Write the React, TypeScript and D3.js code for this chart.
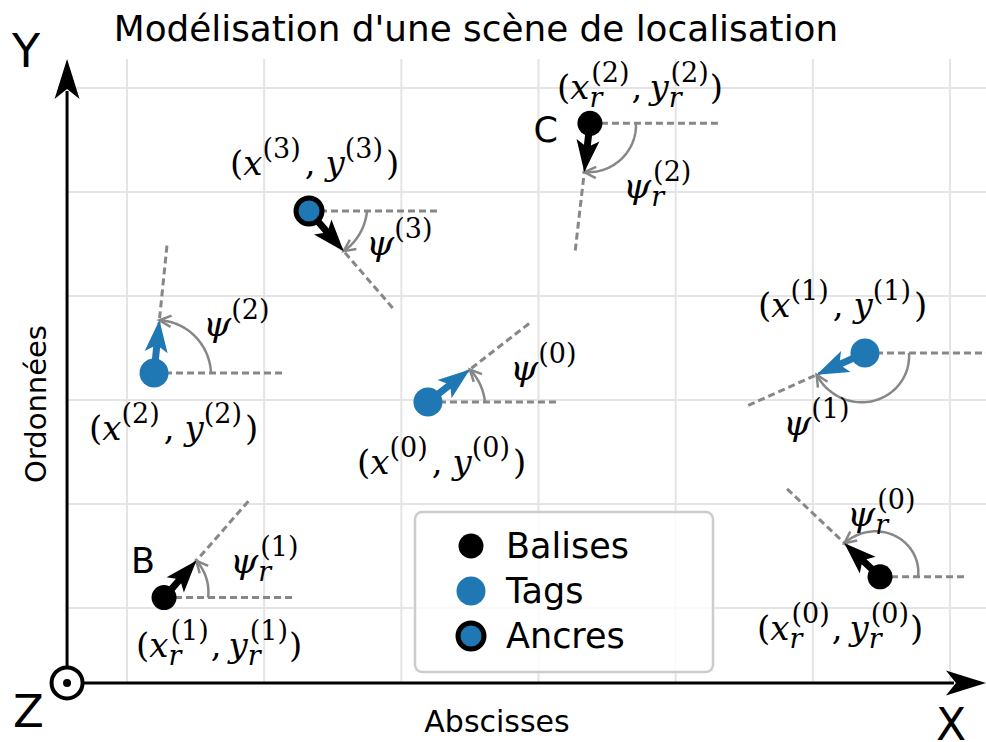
import React from 'react';
import * as d3 from 'd3';

// grid ticks (data units) and visible limits of the scene
const xTicks = [0, 1, 2, 3, 4, 5, 6];
const yTicks = [0, 1, 2, 3, 4, 5];
const xLimits = [-0.437, 6.262];
const yLimits = [-0.72, 5.28];

// balises (black), heading in degrees
const baliseX = [5.49, 0.27, 3.375];
const baliseY = [0.3, 0.1, 4.66];
const baliseHeading = [136.6, 48.8, -96.6];
const baliseNames = ['', 'B', 'C'];

// tags (blue); the last one is an anchor
const tagX = [2.194, 5.38, 0.197, 1.327];
const tagY = [1.981, 2.452, 2.26, 3.817];
const tagHeading = [37.8, -155.8, 84.2, -49.2];
const anchorIndex = [3];

const legendLabels = ['Balises', 'Tags', 'Ancres'];
const title = "Modélisation d'une scène de localisation";

// label placement around each pose (pixels), arc start radius, reference line length
const baliseLayout = [
  { coord: [-123, 63], psi: [-33, -51], arc: 38, ref: 85 },
  { coord: [-28, 59], psi: [66, -25], arc: 44, ref: 130 },
  { coord: [-33, -24], psi: [33, 75], arc: 46, ref: 130 },
];
const tagLayout = [
  { coord: [-71, 72], psi: [82, -22], arc: 57, ref: 130 },
  { coord: [-107, -36], psi: [-82, 82], arc: 44, ref: 130 },
  { coord: [-65, 67], psi: [49, -37], arc: 57, ref: 130 },
  { coord: [-79, -36], psi: [57, 44], arc: 58, ref: 130 },
];

const W = 986;
const H = 742;
const BLUE = '#1f77b4';
const GRAY = '#878787';
const SANS = 'DejaVu Sans';
const SERIF = 'DejaVu Serif';
const MAIN = 34;
const SUP = 27;
const RW = 11;

const x = d3.scaleLinear().domain([0, 6]).range([127, 950]);
const y = d3.scaleLinear().domain([0, 5]).range([608, 88]);

function Script({ i, r }: { i: number; r: boolean }) {
  if (r) {
    return (
      <>
        <tspan fontStyle="italic" fontSize={SUP} dy={8}>r</tspan>
        <tspan fontSize={SUP} dx={-RW} dy={-25}>({i})</tspan>
      </>
    );
  }
  return <tspan fontSize={SUP} dy={-17}>({i})</tspan>;
}

function CoordLabel({ px, py, i, r }: { px: number; py: number; i: number; r: boolean }) {
  return (
    <text x={px} y={py} fontFamily={SERIF} fontSize={MAIN} fill="#000">
      <tspan>(</tspan>
      <tspan fontStyle="italic">x</tspan>
      <Script i={i} r={r} />
      <tspan dx={r ? 2 : 4} dy={17}>,</tspan>
      <tspan dx={r ? 7 : 10} fontStyle="italic">y</tspan>
      <Script i={i} r={r} />
      <tspan dx={r ? 1 : 3} dy={17}>)</tspan>
    </text>
  );
}

function PsiLabel({ px, py, i, r }: { px: number; py: number; i: number; r: boolean }) {
  return (
    <text x={px} y={py} fontFamily={SERIF} fontSize={MAIN + 2} fill="#000">
      <tspan fontStyle="italic">ψ</tspan>
      <Script i={i} r={r} />
    </text>
  );
}

function quiver(cx: number, cy: number, a: number, len: number) {
  const ux = Math.cos(a), uy = -Math.sin(a);
  const vx = -uy, vy = ux;
  const hl = 32, hal = 27, hw = 11.5, w = 3.5;
  const local = [
    [0, -w], [len - hal, -w], [len - hl, -hw], [len, 0],
    [len - hl, hw], [len - hal, w], [0, w],
  ];
  return local.map(([s, n]) => [cx + s * ux + n * vx, cy + s * uy + n * vy].join(',')).join(' ');
}

function Pose({ cx, cy, heading, arrowColor, arrowLen, arcStart, refLen }: {
  cx: number; cy: number; heading: number; arrowColor: string;
  arrowLen: number; arcStart: number; refLen: number;
}) {
  const a = (heading * Math.PI) / 180;
  const ux = Math.cos(a), uy = -Math.sin(a);
  const n = 60;
  const pts = d3.range(n + 1).map((k) => {
    const t = k / n;
    const rr = arcStart + (arrowLen - arcStart) * t;
    return [cx + rr * Math.cos(a * t), cy - rr * Math.sin(a * t)] as [number, number];
  });
  const arc = d3.line()(pts) || '';
  const [ex, ey] = pts[n];
  const [qx, qy] = pts[n - 3];
  const dir = Math.atan2(ey - qy, ex - qx);
  const hs = 13;
  const head = `M${ex - hs * Math.cos(dir - 0.45)},${ey - hs * Math.sin(dir - 0.45)}L${ex},${ey}L${ex - hs * Math.cos(dir + 0.45)},${ey - hs * Math.sin(dir + 0.45)}`;
  return (
    <g>
      <line x1={cx} y1={cy} x2={Math.min(cx + refLen, W)} y2={cy} stroke={GRAY} strokeWidth={3} strokeDasharray="7,4" />
      <line x1={cx} y1={cy} x2={cx + 130 * ux} y2={cy + 130 * uy} stroke={GRAY} strokeWidth={3} strokeDasharray="7,4" />
      <path d={arc} fill="none" stroke={GRAY} strokeWidth={2.5} />
      <path d={head} fill="none" stroke={GRAY} strokeWidth={2.5} />
      <polygon points={quiver(cx, cy, a, arrowLen)} fill={arrowColor} />
    </g>
  );
}

function stealth(tx: number, ty: number, dx: number, dy: number) {
  const L = 40, hw = 12.5, notch = 10;
  const vx = -dy, vy = dx;
  const bx = tx - L * dx, by = ty - L * dy;
  const nx = tx - (L - notch) * dx, ny = ty - (L - notch) * dy;
  return `M${tx},${ty}L${bx + hw * vx},${by + hw * vy}L${nx},${ny}L${bx - hw * vx},${by - hw * vy}Z`;
}

export default function App() {
  const ox = x(xLimits[0]);
  const oy = y(yLimits[0]);
  const topY = y(yLimits[1]);
  const rightX = x(xLimits[1]);

  const legendX = 415, legendY = 512;
  const legendRows = [558, 603, 648];

  return (
    <svg width={W} height={H} style={{ position: 'absolute', left: 0, top: 0, background: '#fff' }}>
      <rect width={W} height={H} fill="#fff" />
      {/* grid */}
      <g stroke="#e4e4e4" strokeWidth={2}>
        {xTicks.map((t) => (
          <line key={`gx${t}`} x1={x(t)} x2={x(t)} y1={oy} y2={topY} />
        ))}
        {yTicks.map((t) => (
          <line key={`gy${t}`} x1={ox} x2={rightX} y1={y(t)} y2={y(t)} />
        ))}
      </g>

      <text x={476} y={41} textAnchor="middle" fontFamily={SANS} fontSize={35.8}>{title}</text>

      {/* poses */}
      {baliseX.map((bx, i) => (
        <Pose key={`b${i}`} cx={x(bx)} cy={y(baliseY[i])} heading={baliseHeading[i]} arrowColor="#000"
          arrowLen={49} arcStart={baliseLayout[i].arc} refLen={baliseLayout[i].ref} />
      ))}
      {tagX.map((tx, i) => (
        <Pose key={`t${i}`} cx={x(tx)} cy={y(tagY[i])} heading={tagHeading[i]}
          arrowColor={anchorIndex.includes(i) ? '#000' : BLUE}
          arrowLen={53} arcStart={tagLayout[i].arc} refLen={tagLayout[i].ref} />
      ))}

      {/* markers */}
      {baliseX.map((bx, i) => (
        <circle key={`bm${i}`} cx={x(bx)} cy={y(baliseY[i])} r={12.5} fill="#000" />
      ))}
      {tagX.map((tx, i) =>
        anchorIndex.includes(i) ? (
          <circle key={`tm${i}`} cx={x(tx)} cy={y(tagY[i])} r={13} fill={BLUE} stroke="#000" strokeWidth={5} />
        ) : (
          <circle key={`tm${i}`} cx={x(tx)} cy={y(tagY[i])} r={14.5} fill={BLUE} />
        )
      )}

      {/* labels */}
      {baliseX.map((bx, i) => {
        const cx = x(bx), cy = y(baliseY[i]);
        const L = baliseLayout[i];
        return (
          <g key={`bl${i}`}>
            <CoordLabel px={cx + L.coord[0]} py={cy + L.coord[1]} i={i} r />
            <PsiLabel px={cx + L.psi[0]} py={cy + L.psi[1]} i={i} r />
          </g>
        );
      })}
      {tagX.map((tx, i) => {
        const cx = x(tx), cy = y(tagY[i]);
        const L = tagLayout[i];
        return (
          <g key={`tl${i}`}>
            <CoordLabel px={cx + L.coord[0]} py={cy + L.coord[1]} i={i} r={false} />
            <PsiLabel px={cx + L.psi[0]} py={cy + L.psi[1]} i={i} r={false} />
          </g>
        );
      })}
      <text x={x(baliseX[1]) - 33} y={y(baliseY[1]) - 25} fontFamily={SANS} fontSize={35}>{baliseNames[1]}</text>
      <text x={x(baliseX[2]) - 32} y={y(baliseY[2]) + 19} textAnchor="end" fontFamily={SANS} fontSize={35}>{baliseNames[2]}</text>

      {/* legend */}
      <rect x={legendX} y={legendY} width={298} height={160} rx={7} fill="#fff" fillOpacity={0.8} stroke="#cccccc" strokeWidth={2.5} />
      {legendLabels.map((lab, i) => (
        <g key={lab}>
          {i === 0 && <circle cx={471} cy={legendRows[i] - 12} r={12.5} fill="#000" />}
          {i === 1 && <circle cx={471} cy={legendRows[i] - 12} r={14.5} fill={BLUE} />}
          {i === 2 && <circle cx={471} cy={legendRows[i] - 12} r={13} fill={BLUE} stroke="#000" strokeWidth={5} />}
          <text x={506} y={legendRows[i]} fontFamily={SANS} fontSize={35}>{lab}</text>
        </g>
      ))}

      {/* axes */}
      <line x1={ox} y1={oy} x2={ox} y2={topY + 32} stroke="#000" strokeWidth={3} />
      <path d={stealth(ox, topY, 0, -1)} fill="#000" />
      <line x1={ox} y1={oy} x2={rightX - 32} y2={oy} stroke="#000" strokeWidth={3} />
      <path d={stealth(rightX, oy, 1, 0)} fill="#000" />
      <circle cx={ox} cy={oy} r={15.5} fill="#fff" stroke="#000" strokeWidth={4} />
      <circle cx={ox} cy={oy} r={4} fill="#000" />

      <text x={12} y={67} fontFamily={SANS} fontSize={46}>Y</text>
      <text x={13} y={727} fontFamily={SANS} fontSize={45}>Z</text>
      <text x={936} y={740} fontFamily={SANS} fontSize={44}>X</text>
      <text x={497} y={732} textAnchor="middle" fontFamily={SANS} fontSize={30}>Abscisses</text>
      <text transform="translate(46,404) rotate(-90)" textAnchor="middle" fontFamily={SANS} fontSize={29}>Ordonnées</text>
    </svg>
  );
}
